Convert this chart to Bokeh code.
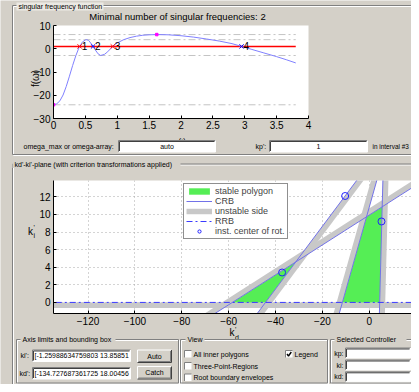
import math
from bokeh.plotting import figure
from bokeh.models import (Range1d, FixedTicker, Legend, LegendItem, GridBox,
                          CustomJSTickFormatter)
from bokeh.core.properties import value
from bokeh.embed import file_html
from bokeh.resources import INLINE

W, H = 411, 384
FONT = "Liberation Sans"
BG = "#d4d0c8"

# ---------------- singular frequency function (top plot) ----------------
omega = [0.0, 0.05, 0.1, 0.15, 0.2, 0.25, 0.3, 0.35, 0.4, 0.45,
         0.5, 0.52, 0.55, 0.6, 0.65, 0.7, 0.74, 0.8, 0.85, 0.9,
         0.95, 1.0, 1.1, 1.2, 1.3, 1.4, 1.5, 1.62, 1.8, 2.0,
         2.2, 2.4, 2.6, 2.8, 2.95, 3.1, 3.3, 3.5, 3.65, 3.8]
f_omega = [-24.1, -23.7, -22.4, -19.9, -16.2, -11.8, -7.2, -3.0, 0.5, 2.8,
           3.8, 3.9, 3.6, 1.9, -0.3, -2.2, -2.9, -2.4, -1.3, 0.2,
           1.5, 2.5, 3.9, 4.8, 5.4, 5.8, 6.0, 6.1, 6.0, 5.6,
           5.0, 4.2, 3.3, 2.2, 1.0, -0.2, -1.8, -3.4, -4.7, -6.1]
kp_prime = 1.0
extrema_levels = [6.1, 3.9, -2.9, -24.1]
marker_omega = [1.62, 0.0]
marker_levels = [6.1, -24.1]
crossing_omega = [0.41, 0.62, 0.93, 2.95]
crossing_labels = ["1", "2", "3", "4"]
crossing_colors = ["red", "blue", "red", "blue"]
sf_xticks = [0, 0.5, 1, 1.5, 2, 2.5, 3, 3.5, 4]
sf_yticks = [-30, -20, -10, 0, 10]
sf_title = "Minimal number of singular frequencies: 2"
sf_ylabel = "f(\u03c9)"

# ---------------- kd'-ki' plane (bottom plot) ----------------
kd_limits = [-134.727687361725, 18.004568]
ki_limits = [-1.25988634759803, 13.858516]
# complex root boundaries (line end points) and side of the unstable region
crb_kd0 = [-70.2, -49.9, -13.6, 4.23]
crb_ki0 = [-2.0, -2.0, -2.0, -2.0]
crb_kd1 = [29.8, -2.2, 4.4, 5.91]
crb_ki1 = [15.0, 15.0, 15.0, 15.0]
crb_side = [1, -1, 1, -1]
# real root boundary ki' = 0
rrb_ki = 0.0
# stable polygons given as lists of bounding-line pairs (index into CRB, "R" = RRB)
poly_bounds = [[("R", 0), ("R", 1), (0, 1)],
               [("R", 2), ("R", 3), (3, 0), (2, 0)]]
center_kd = [-37.2, -10.3, 5.2]
center_ki = [3.4, 12.1, 9.2]
kd_ticks = [-120, -100, -80, -60, -40, -20, 0]
ki_ticks = [0, 2, 4, 6, 8, 10, 12]


# ======================= background GUI (pixel coords) =======================
bg = figure(width=W, height=H, x_range=Range1d(0, W), y_range=Range1d(H, 0),
            min_border=0, toolbar_location=None, output_backend="svg",
            x_axis_location=None, y_axis_location=None, frame_align=False,
            background_fill_color=BG, border_fill_color=BG, outline_line_color=None)
bg.grid.visible = False


def txt(x, y, s, size="7px", align="left", color="black", style="normal", angle=0):
    bg.text(x=[x], y=[y], text=[s], text_font=value(FONT), text_font_size=size,
            text_align=align, text_baseline="middle", text_color=color,
            text_font_style=style, angle=angle)


def hline(x0, x1, y, c):
    bg.segment(x0=[x0], y0=[y], x1=[x1], y1=[y], line_color=c, line_width=1)


def vline(x, y0, y1, c):
    bg.segment(x0=[x], y0=[y0], x1=[x], y1=[y1], line_color=c, line_width=1)


def etched(x0, y0, x1, y1):
    for d, c in ((1, "white"), (0, "#808080")):
        hline(x0 + d, x1 + d, y0 + d, c)
        hline(x0 + d, x1 + d, y1 + d, c)
        vline(x0 + d, y0 + d, y1 + d, c)
        vline(x1 + d, y0 + d, y1 + d, c)


def panel_label(x, y, s, w):
    bg.quad(left=[x - 2], right=[x + w + 2], top=[y - 4], bottom=[y + 4],
            fill_color=BG, line_color=None)
    txt(x, y, s)


def textbox(x0, y0, x1, y1):
    bg.quad(left=[x0], right=[x1], top=[y0], bottom=[y1], fill_color="white", line_color=None)
    hline(x0, x1, y0, "#808080")
    vline(x0, y0, y1, "#808080")
    hline(x0 + 1, x1 - 1, y0 + 1, "#404040")
    vline(x0 + 1, y0 + 1, y1 - 1, "#404040")
    hline(x0, x1, y1, "white")
    vline(x1, y0, y1, "white")


def button(x0, y0, x1, y1, s):
    bg.quad(left=[x0], right=[x1], top=[y0], bottom=[y1], fill_color=BG, line_color=None)
    hline(x0, x1, y0, "white")
    vline(x0, y0, y1, "white")
    hline(x0, x1, y1, "#404040")
    vline(x1, y0, y1, "#404040")
    hline(x0 + 1, x1 - 1, y1 - 1, "#808080")
    vline(x1 - 1, y0 + 1, y1 - 1, "#808080")
    txt((x0 + x1) / 2, (y0 + y1) / 2, s, align="center")


def checkbox(x, y, s, checked=False, tx=None):
    x0, y0, x1, y1 = x, y - 3.5, x + 7, y + 3.5
    bg.quad(left=[x0], right=[x1], top=[y0], bottom=[y1], fill_color="white", line_color=None)
    hline(x0, x1, y0, "#808080")
    vline(x0, y0, y1, "#808080")
    if checked:
        bg.line(x=[x + 1.5, x + 3, x + 5.8], y=[y, y + 2, y - 2], line_color="black", line_width=1.4)
    txt(x + 9 if tx is None else tx, y, s)


# top panel
etched(12, 5, 425, 154)
bg.quad(left=[16], right=[103], top=[2], bottom=[10], fill_color="#ebe9e3", line_color=None)
txt(18, 6, "singular frequency function")
txt(177, 15.5, sf_title, size="9.5px", align="center")
txt(35, 78, sf_ylabel, size="10px", align="center", angle=math.pi / 2)
txt(181.5, 138.5, "\u03c9", size="8px", align="center")
txt(23, 145.8, "omega_max or omega-array:")
textbox(118, 140, 215, 151.5)
txt(166.5, 145.8, "auto", align="center")
txt(255, 145.8, "kp':")
textbox(269, 140, 367, 151.5)
txt(318, 145.8, "1", align="center")
txt(372, 145.8, "in interval #3", size="6.4px")

# kd-ki panel
etched(12, 163.5, 425, 391)
panel_label(14, 163.5, "kd'-ki'-plane (with criterion transformations applied)", 164)

# axis labels of the kd-ki plane
txt(27.5, 231, "k", size="10px")
txt(33, 234.5, "i", size="7px")
txt(33, 226.5, "'", size="7px")
txt(229, 332, "k", size="10px")
txt(234.5, 336.5, "d", size="7px")
txt(234.5, 328.5, "'", size="7px")

# bottom sub panels
etched(16, 339, 178, 382.5)
panel_label(22, 339, "Axis limits and bounding box", 91)
txt(20, 355, "ki':")
textbox(32, 349.5, 130, 361)
txt(34, 355.2, "[-1.25988634759803 13.85851", size="6.9px")
txt(19, 372.5, "kd':")
textbox(32, 367, 130, 378.5)
txt(34, 372.7, "[-134.727687361725 18.00456", size="6.9px")
button(137, 349.5, 171, 362, "Auto")
button(137, 366, 171, 378.5, "Catch")

etched(180, 339, 327, 382.5)
panel_label(187, 339, "View", 15)
checkbox(184, 353.5, "All inner polygons")
checkbox(184, 365.5, "Three-Point-Regions")
checkbox(184, 377, "Root boundary envelopes")
checkbox(285, 353.5, "Legend", checked=True, tx=294)

etched(330, 339, 425, 382.5)
panel_label(336, 339, "Selected Controller", 68)
txt(343, 352.5, "kp:", align="right")
textbox(345, 347.5, 410, 357.5)
txt(343, 364.5, "ki:", align="right")
textbox(345, 359.5, 410, 369.5)
txt(343, 376.3, "kd:", align="right")
textbox(345, 371.3, 410, 381.3)


def style_axes(p, size="10px"):
    for ax in p.axis:
        ax.major_tick_in = 3
        ax.major_tick_out = 0
        ax.minor_tick_line_color = None
        ax.axis_line_color = "black"
        ax.major_tick_line_color = "black"
        ax.major_label_text_font = FONT
        ax.major_label_text_font_size = size
        ax.major_label_text_color = "black"
        ax.major_label_standoff = 3


# ======================= top plot: singular frequency function =======================
AL, AR, AT, AB = 53, 308, 25, 118
pa = figure(width=W, height=H, x_range=Range1d(0, 4), y_range=Range1d(-30, 10),
            min_border_left=AL, min_border_right=W - AR, min_border_top=AT,
            min_border_bottom=H - AB,
            toolbar_location=None, output_backend="svg", frame_align=False,
            background_fill_color="white", border_fill_color=None, border_fill_alpha=0,
            outline_line_color=None)
pa.grid.visible = False
pa.xaxis.ticker = FixedTicker(ticks=sf_xticks)
pa.yaxis.ticker = FixedTicker(ticks=sf_yticks)
pa.xaxis.formatter = CustomJSTickFormatter(code="return tick.toString()")
style_axes(pa)
pa.xaxis.major_label_standoff = 2

pa.segment(x0=omega[0], x1=omega[-1], y0=extrema_levels, y1=extrema_levels,
           line_color="#c4c4c4", line_width=1, line_dash="7 3 2 3")
pa.line(x=[omega[0], omega[-1]], y=[kp_prime, kp_prime], line_color="#ff0000", line_width=1.5)
pa.line(x=omega, y=f_omega, line_color="#8080ff", line_width=1)
pa.scatter(x=marker_omega, y=marker_levels, marker="square", size=2.5,
           fill_color="magenta", line_color="magenta")
pa.scatter(x=crossing_omega, y=[kp_prime] * len(crossing_omega), marker="x", size=6,
           line_color=crossing_colors, line_width=1)
pa.text(x=crossing_omega, y=[kp_prime] * len(crossing_omega), text=crossing_labels,
        x_offset=2, text_baseline="middle", text_font=value(FONT), text_font_size="10px",
        text_color="black")

# ======================= bottom plot: kd'-ki' plane =======================
CL, CT = 53, 180
FW, FH = W - CL, 133
pc = figure(width=W, height=H, x_range=Range1d(*kd_limits), y_range=Range1d(*ki_limits),
            min_border_left=CL, min_border_right=W - CL - FW, min_border_top=CT,
            min_border_bottom=H - CT - FH,
            toolbar_location=None, output_backend="svg", frame_align=False,
            background_fill_color="white", border_fill_color=None, border_fill_alpha=0,
            outline_line_color=None)
pc.xaxis.ticker = FixedTicker(ticks=kd_ticks)
pc.yaxis.ticker = FixedTicker(ticks=ki_ticks)
style_axes(pc)
for g in pc.grid:
    g.grid_line_color = "#a8a8a8"
    g.grid_line_dash = "1 3"
    g.grid_line_width = 1
pc.xgrid.ticker = FixedTicker(ticks=kd_ticks)
pc.ygrid.ticker = FixedTicker(ticks=ki_ticks)

sx = FW / (kd_limits[1] - kd_limits[0])
sy = FH / (ki_limits[1] - ki_limits[0])


def shifted(x0, y0, x1, y1, side, d=2.8):
    dx, dy = (x1 - x0) * sx, (y1 - y0) * sy
    L = math.hypot(dx, dy)
    nx, ny = -dy / L * side, dx / L * side
    return x0 + nx * d / sx, y0 + ny * d / sy, x1 + nx * d / sx, y1 + ny * d / sy


lines = [(crb_kd0[i], crb_ki0[i], crb_kd1[i], crb_ki1[i]) for i in range(len(crb_kd0))]
rrb_line = (kd_limits[0] - 5, rrb_ki, kd_limits[1] + 5, rrb_ki)

band = [shifted(*lines[i], crb_side[i]) for i in range(len(lines))]
band.append(shifted(*rrb_line, -1))
r_band = pc.segment(x0=[b[0] for b in band], y0=[b[1] for b in band],
                    x1=[b[2] for b in band], y1=[b[3] for b in band],
                    line_color="#c8c8c8", line_width=5.5)


def get_line(k):
    return rrb_line if k == "R" else lines[k]


def intersect(a, b):
    x1, y1, x2, y2 = get_line(a)
    x3, y3, x4, y4 = get_line(b)
    den = (x1 - x2) * (y3 - y4) - (y1 - y2) * (x3 - x4)
    t = ((x1 - x3) * (y3 - y4) - (y1 - y3) * (x3 - x4)) / den
    return x1 + t * (x2 - x1), y1 + t * (y2 - y1)


poly_xs, poly_ys = [], []
for pb in poly_bounds:
    pts = [intersect(a, b) for a, b in pb]
    poly_xs.append([p[0] for p in pts])
    poly_ys.append([p[1] for p in pts])
r_poly = pc.patches(xs=poly_xs, ys=poly_ys, fill_color="#55ee55", line_color=None)

r_crb = pc.segment(x0=crb_kd0, y0=crb_ki0, x1=crb_kd1, y1=crb_ki1,
                   line_color="#7272e8", line_width=1)
r_rrb = pc.line(x=[rrb_line[0], rrb_line[2]], y=[rrb_ki, rrb_ki], line_color="#3a3aff",
                line_width=1, line_dash="6 3 2 3")
r_cen = pc.scatter(x=center_kd, y=center_ki, marker="circle", size=7, fill_color=None,
                   line_color="#2020ff", line_width=1)

legend = Legend(items=[LegendItem(label="stable polygon", renderers=[r_poly]),
                       LegendItem(label="CRB", renderers=[r_crb]),
                       LegendItem(label="unstable side", renderers=[r_band]),
                       LegendItem(label="RRB", renderers=[r_rrb]),
                       LegendItem(label="inst. center of rot.", renderers=[r_cen])],
                location=(130, 74), orientation="vertical",
                background_fill_color="white", background_fill_alpha=1,
                border_line_color="#202020", border_line_width=1,
                label_text_font=FONT, label_text_font_size="9px",
                label_text_line_height=1.0,
                glyph_width=26, glyph_height=8, label_height=9, label_standoff=3,
                spacing=0, padding=2, margin=0)
pc.add_layout(legend)

layout = GridBox(children=[(bg, 0, 0), (pa, 0, 0), (pc, 0, 0)])
open("out.html", "w").write(file_html(layout, INLINE))
